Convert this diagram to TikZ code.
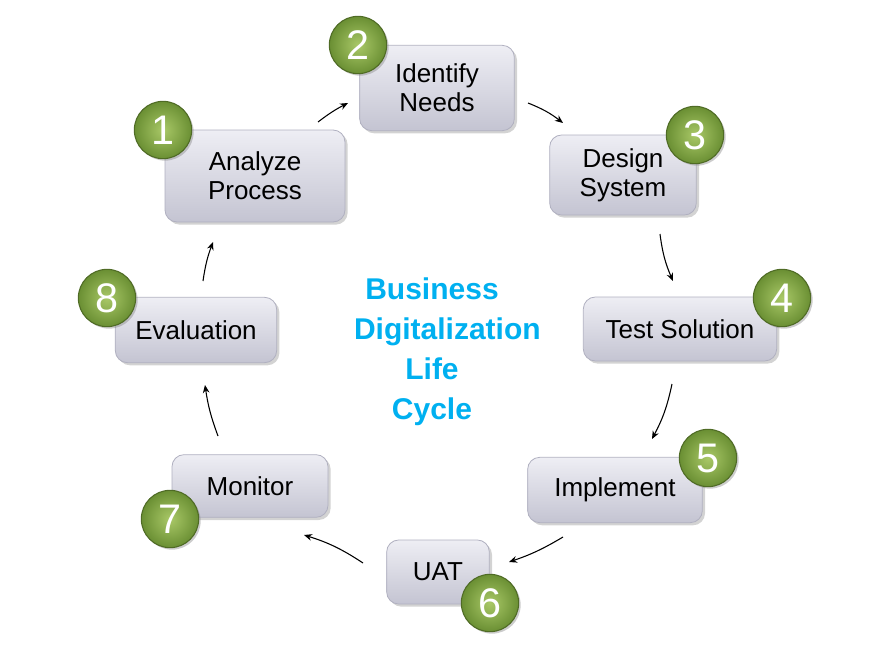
\documentclass[tikz,border=0pt]{standalone}
\usepackage{fontspec}
\setmainfont{Liberation Sans}
\usetikzlibrary{shadows,shadings,arrows.meta}
\definecolor{boxtop}{HTML}{EEEEF4}
\definecolor{boxbot}{HTML}{C4C4D2}
\definecolor{boxedge}{HTML}{B0B0C0}
\definecolor{ballin}{HTML}{A9C867}
\definecolor{ballout}{HTML}{6A8F33}
\definecolor{balledge}{HTML}{4F6B25}
\definecolor{titleblue}{HTML}{00B0F0}
\tikzset{
  stagebox/.style={rounded corners=9pt, draw=boxedge, line width=0.6pt,
    top color=boxtop, bottom color=boxbot, align=center, inner sep=0pt,
    font=\fontsize{19.5}{21.5}\selectfont,
    drop shadow={opacity=0.35, shadow xshift=2pt, shadow yshift=-2pt}},
  numball/.style={circle, draw=balledge, line width=0.8pt, inner color=ballin,
    outer color=ballout, minimum size=43pt, inner sep=0pt, text=white,
    font=\fontsize{31}{31}\selectfont,
    drop shadow={opacity=0.4, shadow xshift=1.5pt, shadow yshift=-1.5pt}},
  flow/.style={-{Stealth[length=6pt,width=5pt]}, line width=0.8pt, black},
  title/.style={text=titleblue, font=\bfseries\fontsize{22.5}{30}\selectfont, align=center}
}
\begin{document}
\begin{tikzpicture}[x=0.75pt,y=-0.75pt]
\useasboundingbox (0,0) rectangle (890,671);
% boxes
\node[stagebox, minimum width=135pt, minimum height=69pt] (b1) at (255,176) {Analyze\\Process};
\node[stagebox, minimum width=116pt, minimum height=64pt] (b2) at (437,88) {Identify\\Needs};
\node[stagebox, minimum width=110pt, minimum height=60pt] (b3) at (623,175) {Design\\System};
\node[stagebox, minimum width=145pt, minimum height=48pt] (b4) at (680,329) {Test Solution};
\node[stagebox, minimum width=131pt, minimum height=49pt] (b5) at (615,490) {Implement};
\node[stagebox, minimum width=77pt, minimum height=48pt] (b6) at (438,572) {UAT};
\node[stagebox, minimum width=117pt, minimum height=47pt] (b7) at (250,486) {Monitor};
\node[stagebox, minimum width=121pt, minimum height=49pt] (b8) at (196,330) {Evaluation};
% balls
\node[numball] (n1) at (163,130) {1};
\node[numball] (n2) at (358,45) {2};
\node[numball] (n3) at (695,135) {3};
\node[numball] (n4) at (782,298) {4};
\node[numball] (n5) at (708,458) {5};
\node[numball] (n6) at (490,603) {6};
\node[numball] (n7) at (170,519) {7};
\node[numball] (n8) at (107,298) {8};
% title
\node[title] (t) at (432,352) {Business\\\hspace*{23pt}Digitalization\\Life\\Cycle};
% arrows
\coordinate (a1s) at (318,122); \coordinate (a1e) at (348,103);
\coordinate (a2s) at (528,103); \coordinate (a2e) at (563,123);
\coordinate (a3s) at (660,234); \coordinate (a3e) at (673,281);
\coordinate (a4s) at (672,384); \coordinate (a4e) at (652,439);
\coordinate (a5s) at (563,537); \coordinate (a5e) at (509,562);
\coordinate (a6s) at (363,563); \coordinate (a6e) at (304,535);
\coordinate (a7s) at (218,436); \coordinate (a7e) at (205,385);
\coordinate (a8s) at (203,281); \coordinate (a8e) at (213,242);
\draw[flow] (a1s) to[bend left=5] (a1e);
\draw[flow] (a2s) to[bend left=8] (a2e);
\draw[flow] (a3s) to[bend right=8] (a3e);
\draw[flow] (a4s) to[bend left=8] (a4e);
\draw[flow] (a5s) to[bend left=6] (a5e);
\draw[flow] (a6s) to[bend right=8] (a6e);
\draw[flow] (a7s) to[bend left=6] (a7e);
\draw[flow] (a8s) to[bend left=6] (a8e);
\end{tikzpicture}
\end{document}
